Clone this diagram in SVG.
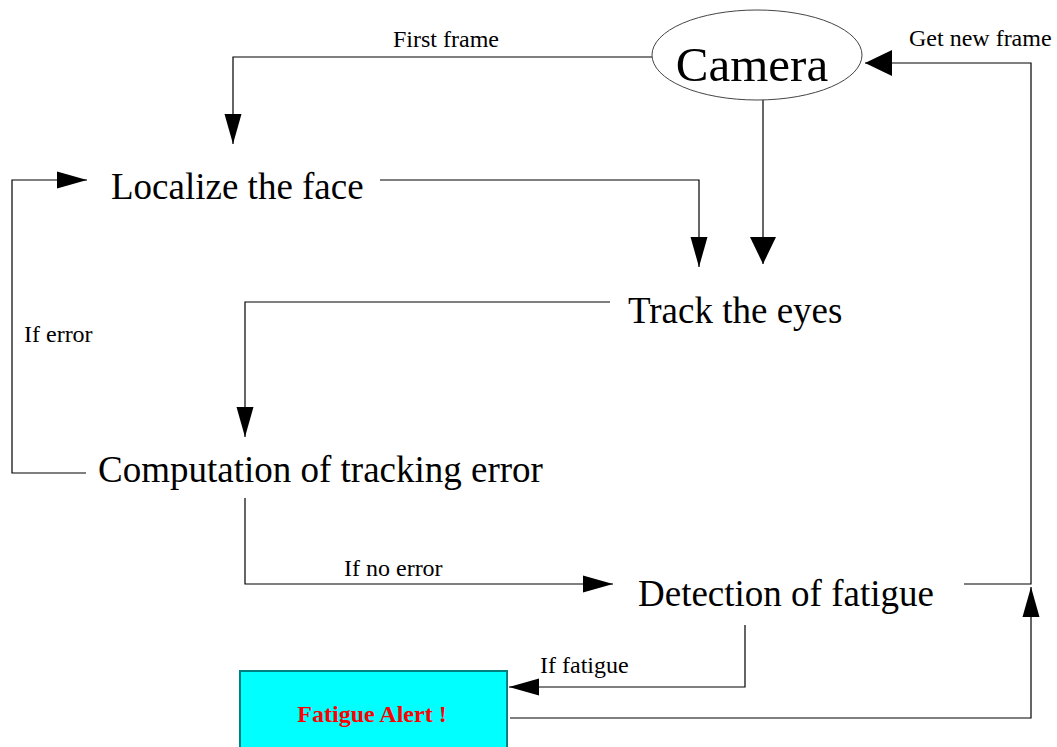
<svg xmlns="http://www.w3.org/2000/svg" width="1057" height="747" viewBox="0 0 1057 747">
<style>
.big{font-family:"Liberation Serif","Times New Roman",serif;font-size:37px;fill:#000}
.lbl{font-family:"Liberation Serif","Times New Roman",serif;font-size:24px;fill:#000}
.conn{fill:none;stroke:#000;stroke-width:1.2}
</style>
<defs>
<marker id="an" markerUnits="userSpaceOnUse" markerWidth="31" markerHeight="18" refX="30" refY="8.5" orient="auto" overflow="visible">
<path d="M0,0 L30,8.5 L0,17 z" fill="#000"/>
</marker>
<marker id="aw" markerUnits="userSpaceOnUse" markerWidth="28" markerHeight="27" refX="27" refY="13" orient="auto" overflow="visible">
<path d="M0,0 L27,13 L0,26 z" fill="#000"/>
</marker>
</defs>
<rect width="1057" height="747" fill="#fff"/>
<g id="connectors">
<path class="conn" d="M652,57 H233 V144" marker-end="url(#an)"/>
<path class="conn" d="M380,180 H699 V267" marker-end="url(#an)"/>
<path class="conn" d="M763,100 V264" marker-end="url(#aw)"/>
<path class="conn" d="M86,473 H12 V180 H87" marker-end="url(#an)"/>
<path class="conn" d="M610,302 H245 V437" marker-end="url(#an)"/>
<path class="conn" d="M245,498 V584 H613" marker-end="url(#an)"/>
<path class="conn" d="M745,625 V687 H509" marker-end="url(#an)"/>
<path class="conn" d="M964,584 H1031 V63 H865" marker-end="url(#aw)"/>
<path class="conn" d="M510,718 H1031 V587" marker-end="url(#an)"/>
<text class="lbl" x="393" y="47">First frame</text>
<text class="lbl" x="909" y="46">Get new frame</text>
<text class="lbl" x="24" y="342">If error</text>
<text class="lbl" x="344" y="576">If no error</text>
<text class="lbl" x="540" y="673">If fatigue</text>
</g>
<g id="camera">
<ellipse cx="757" cy="55" rx="105" ry="45" fill="#fff" stroke="#444" stroke-width="1"/>
<text x="752" y="81" text-anchor="middle" font-family="Liberation Serif, Times New Roman, serif" font-size="49">Camera</text>
</g>
<g id="localize"><text class="big" x="111" y="199">Localize the face</text></g>
<g id="track"><text class="big" x="628" y="323">Track the eyes</text></g>
<g id="computation"><text class="big" x="98" y="482">Computation of tracking error</text></g>
<g id="detection"><text class="big" x="638" y="606">Detection of fatigue</text></g>
<g id="alert">
<rect x="240" y="671" width="267" height="90" fill="#00ffff" stroke="#008080" stroke-width="2"/>
<text x="372" y="722" text-anchor="middle" font-family="Liberation Serif, Times New Roman, serif" font-size="24" font-weight="bold" fill="#ff0000">Fatigue Alert !</text>
</g>
</svg>
